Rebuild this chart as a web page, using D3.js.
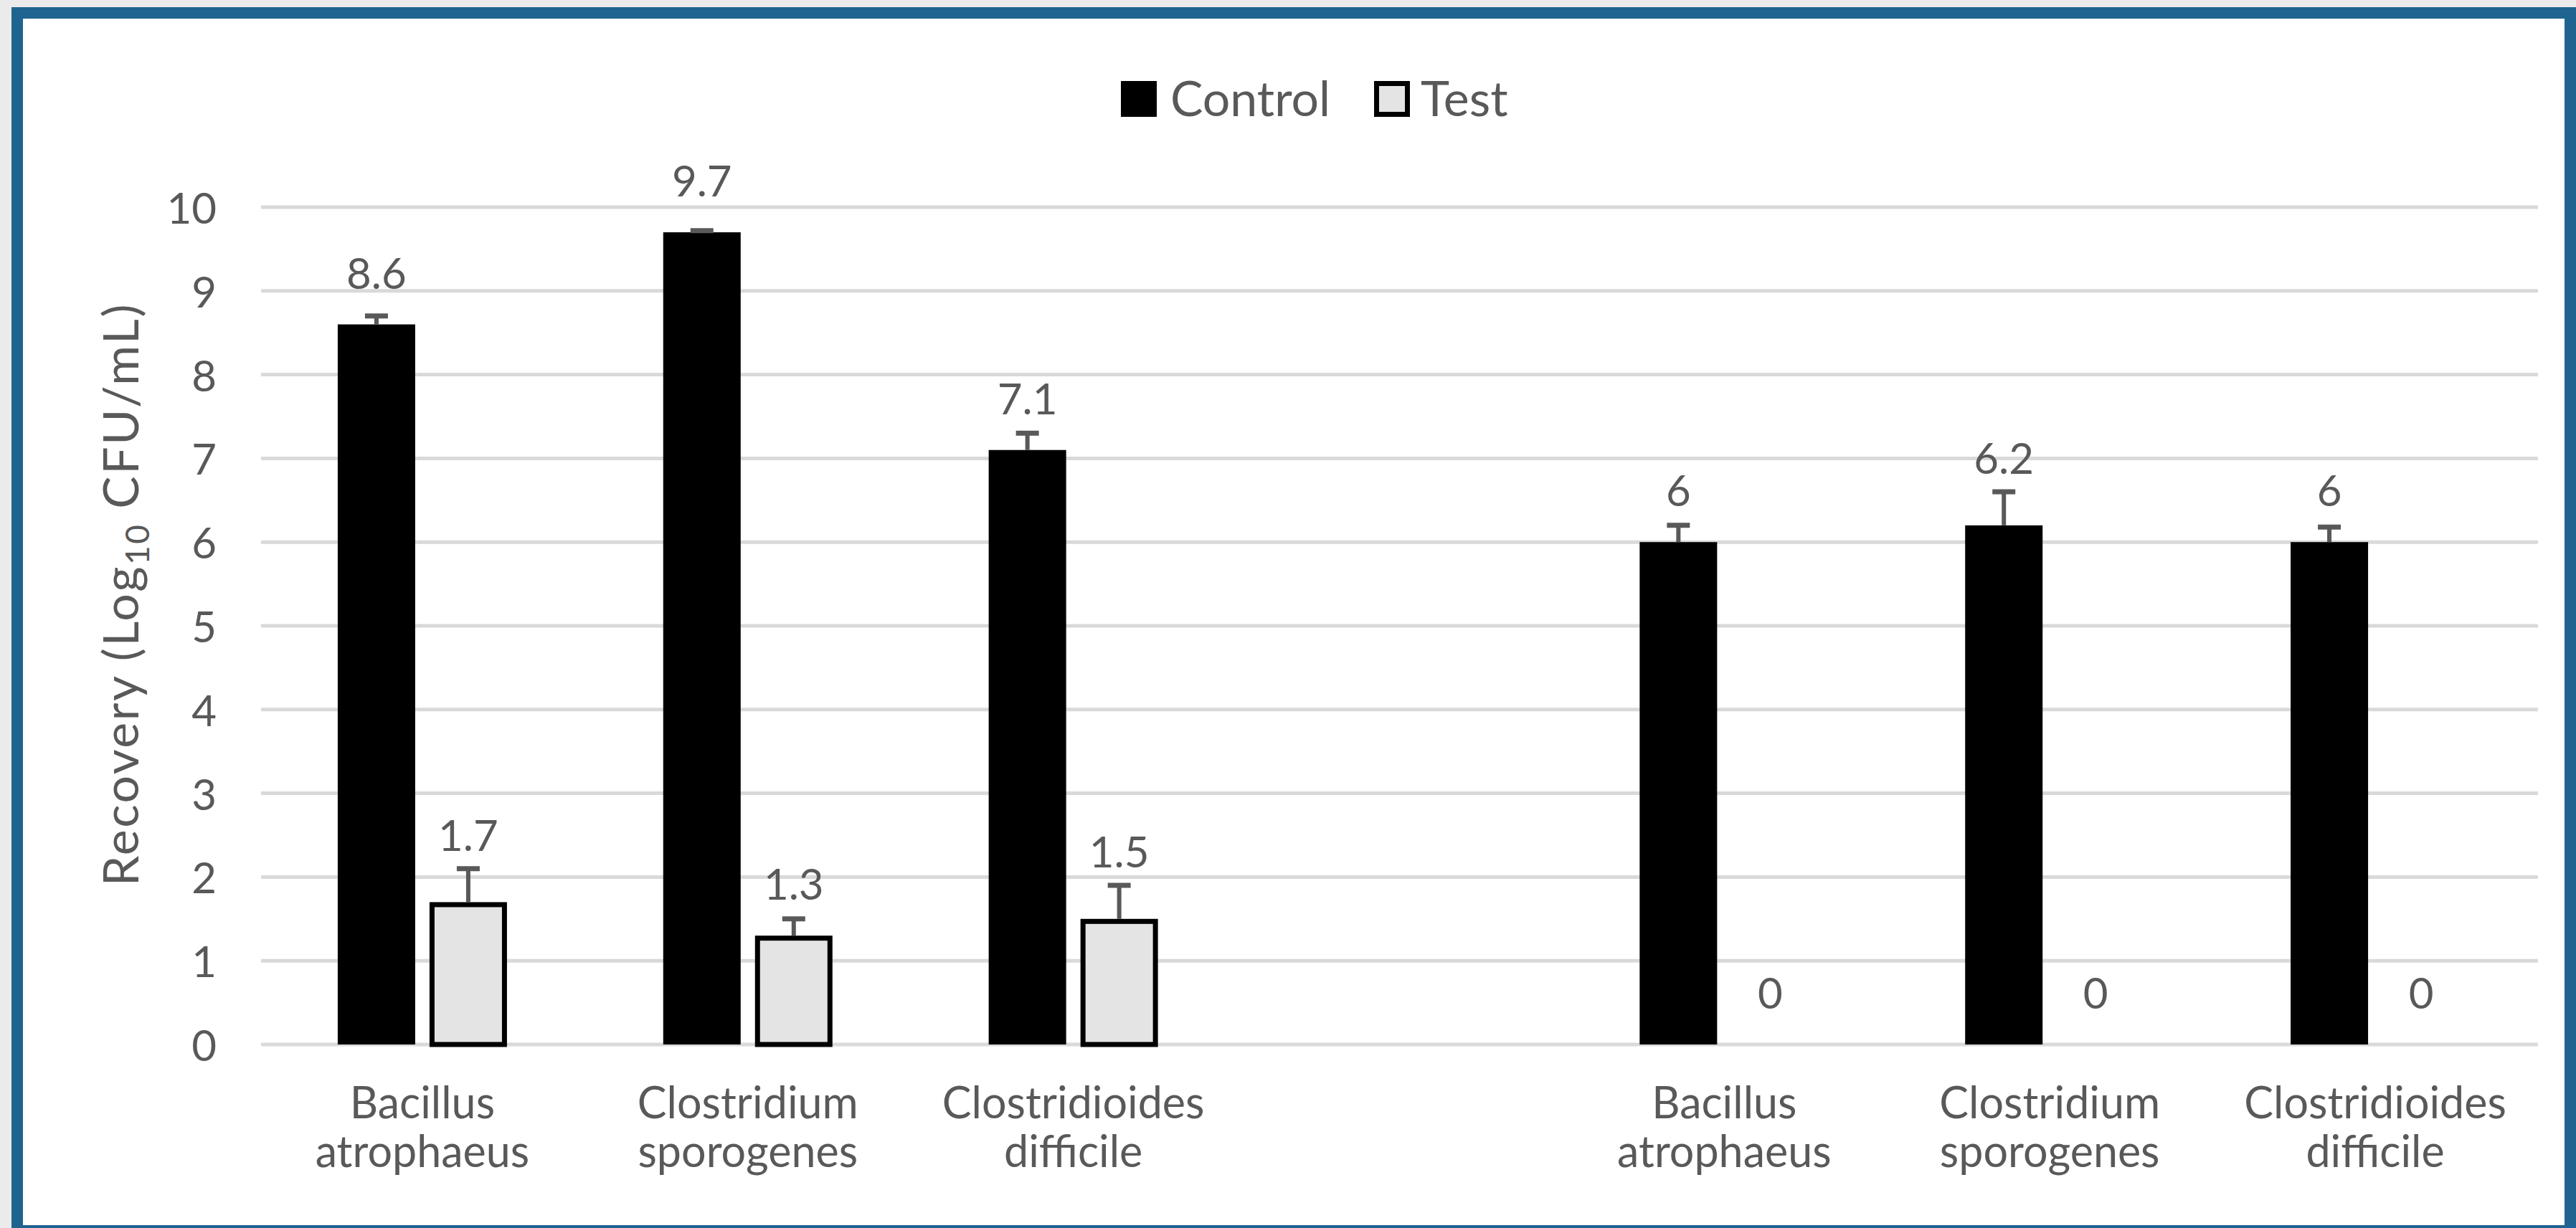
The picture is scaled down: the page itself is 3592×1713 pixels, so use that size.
<!DOCTYPE html>
<html><head><meta charset="utf-8">
<script src="https://cdn.jsdelivr.net/npm/d3@7"></script>
<style>
html,body{margin:0;padding:0;background:#ebebeb;overflow:hidden;}
svg{display:block;}
text{font-family:Lato,"Open Sans",sans-serif;fill:#595959;}
</style></head><body>
<svg id="chart" width="3592" height="1713"></svg>
<script>
// ---- data ----
const categories = ["Bacillus atrophaeus", "Clostridium sporogenes", "Clostridioides difficile", "",
                    "Bacillus atrophaeus", "Clostridium sporogenes", "Clostridioides difficile"];
const seriesNames = ["Control", "Test"];
const controlValues = [8.6, 9.7, 7.1, null, 6, 6.2, 6];
const testValues = [1.7, 1.3, 1.5, null, 0, 0, 0];
const controlErrors = [0.1, 0.02, 0.2, null, 0.2, 0.4, 0.18];
const testErrors = [0.4, 0.2, 0.4, null, null, null, null];
const yTicks = [0, 1, 2, 3, 4, 5, 6, 7, 8, 9, 10];
const yTitleMain = "Recovery (Log";
const yTitleSub = "10";
const yTitleEnd = " CFU/mL)";

// ---- layout ----
const W = 3592, H = 1713;
const svg = d3.select("#chart");

// frame
svg.append("rect").attr("x", 16).attr("y", 10).attr("width", W - 16).attr("height", H - 10).attr("fill", "#1f6490");
svg.append("rect").attr("x", 32).attr("y", 26).attr("width", 3576 - 32).attr("height", 1709 - 26).attr("fill", "#ffffff");

const plotLeft = 364, plotRight = 3539, plotTop = 289, plotBottom = 1457;
const y = d3.scaleLinear().domain([0, 10]).range([plotBottom, plotTop]);
const x0 = d3.scaleBand().domain(d3.range(categories.length)).range([362, 3539]).padding(0);
const groupHalf = 118;
const x1 = d3.scaleBand().domain(seriesNames)
  .range([x0.bandwidth() / 2 - groupHalf, x0.bandwidth() / 2 + groupHalf])
  .paddingInner(0.15625).paddingOuter(0);

// gridlines
svg.append("g").selectAll("line").data(yTicks).join("line")
  .attr("x1", plotLeft).attr("x2", plotRight)
  .attr("y1", d => y(d)).attr("y2", d => y(d))
  .attr("stroke", "#d9d9d9").attr("stroke-width", 5);

// y tick labels
svg.append("g").selectAll("text").data(yTicks).join("text")
  .attr("x", 302).attr("y", d => y(d))
  .attr("text-anchor", "end").attr("dominant-baseline", "central")
  .attr("font-size", 60)
  .text(d => d);

// y title
const yt = svg.append("text")
  .attr("transform", "translate(193,829) rotate(-90)")
  .attr("text-anchor", "middle")
  .attr("font-size", 68)
  .attr("letter-spacing", 2.5);
yt.append("tspan").text(yTitleMain);
yt.append("tspan").attr("font-size", 46).attr("dy", 15).text(yTitleSub);
yt.append("tspan").attr("dy", -15).text(yTitleEnd);

// bars
const rows = categories.map((c, i) => ({
  i, c,
  vals: [
    {s: "Control", v: controlValues[i], e: controlErrors[i]},
    {s: "Test", v: testValues[i], e: testErrors[i]}
  ].filter(d => d.v !== null)
}));

const g = svg.append("g");
const groups = g.selectAll("g.grp").data(rows).join("g")
  .attr("class", "grp")
  .attr("transform", d => `translate(${x0(d.i)},0)`);

const stroke = 7;
groups.selectAll("rect").data(d => d.vals.filter(v => v.v > 0)).join("rect")
  .attr("x", d => d.s === "Test" ? x1(d.s) + stroke / 2 : x1(d.s))
  .attr("width", d => d.s === "Test" ? x1.bandwidth() - stroke : x1.bandwidth())
  .attr("y", d => d.s === "Test" ? y(d.v) + stroke / 2 : y(d.v))
  .attr("height", d => d.s === "Test" ? y(0) - y(d.v) - stroke / 2 : y(0) - y(d.v))
  .attr("fill", d => d.s === "Test" ? "#e4e4e4" : "#000000")
  .attr("stroke", d => d.s === "Test" ? "#000000" : "none")
  .attr("stroke-width", stroke);

// error bars
const errs = groups.selectAll("g.err").data(d => d.vals.filter(v => v.e)).join("g").attr("class", "err");
errs.append("line")
  .attr("x1", d => x1(d.s) + x1.bandwidth() / 2).attr("x2", d => x1(d.s) + x1.bandwidth() / 2)
  .attr("y1", d => y(d.v)).attr("y2", d => y(d.v + d.e))
  .attr("stroke", "#595959").attr("stroke-width", 6);
errs.append("line")
  .attr("x1", d => x1(d.s) + x1.bandwidth() / 2 - 16).attr("x2", d => x1(d.s) + x1.bandwidth() / 2 + 16)
  .attr("y1", d => y(d.v + d.e)).attr("y2", d => y(d.v + d.e))
  .attr("stroke", "#595959").attr("stroke-width", 7);

// data labels
groups.selectAll("text.lbl").data(d => d.vals).join("text").attr("class", "lbl")
  .attr("x", d => x1(d.s) + x1.bandwidth() / 2)
  .attr("y", d => Math.min(y(d.v) - 50, d.e ? y(d.v + d.e) - 25 : Infinity))
  .attr("text-anchor", "middle")
  .attr("font-size", 60)
  .text(d => d.v);

// category labels
const cl = svg.append("g").selectAll("text").data(rows).join("text")
  .attr("text-anchor", "middle")
  .attr("font-size", 61)
  .attr("x", d => x0(d.i) + x0.bandwidth() / 2);
cl.each(function(d) {
  const parts = d.c.split(" ");
  const t = d3.select(this);
  if (!d.c) return;
  t.append("tspan").attr("x", x0(d.i) + x0.bandwidth() / 2).attr("y", 1560).text(parts[0]);
  t.append("tspan").attr("x", x0(d.i) + x0.bandwidth() / 2).attr("y", 1628).text(parts.slice(1).join(" "));
});

// legend
const legendItems = [
  {name: "Control", bx: 1563, tx: 1632, fill: "#000000", stroke: "none"},
  {name: "Test", bx: 1916, tx: 1981, fill: "#e4e4e4", stroke: "#000000"}
];
const lg = svg.append("g").selectAll("g").data(legendItems).join("g");
lg.append("rect")
  .attr("x", d => d.stroke === "none" ? d.bx : d.bx + stroke / 2)
  .attr("y", d => d.stroke === "none" ? 113 : 113 + stroke / 2)
  .attr("width", d => d.stroke === "none" ? 50 : 50 - stroke)
  .attr("height", d => d.stroke === "none" ? 50 : 50 - stroke)
  .attr("fill", d => d.fill).attr("stroke", d => d.stroke).attr("stroke-width", stroke);
lg.append("text").attr("x", d => d.tx).attr("y", 162).attr("font-size", 68).text(d => d.name);
</script>
</body></html>
